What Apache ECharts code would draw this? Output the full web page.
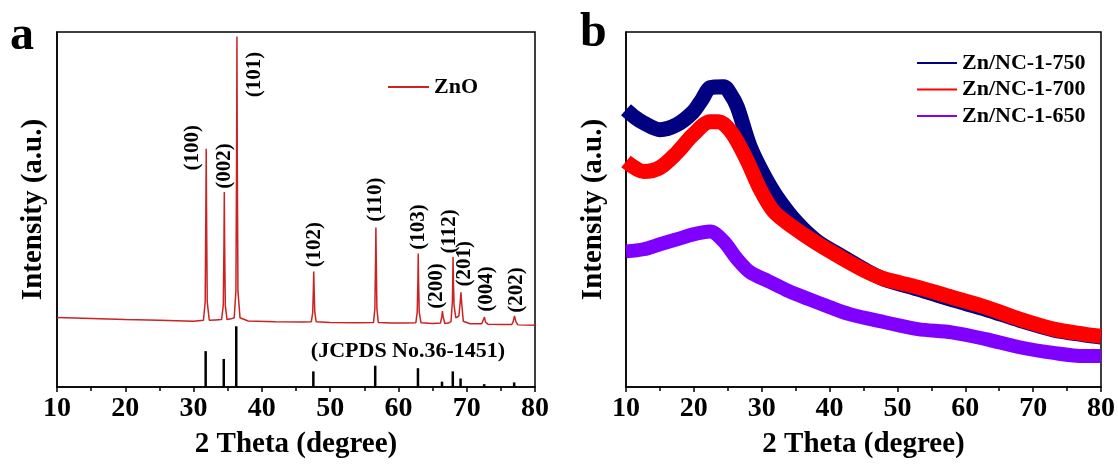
<!DOCTYPE html>
<html><head><meta charset="utf-8">
<script src="https://cdn.jsdelivr.net/npm/echarts@6/dist/echarts.min.js"></script>
<style>html,body{margin:0;padding:0;background:#fff}#c{width:1118px;height:464px}</style>
</head><body><div id="c"></div>
<script>
// ---------- data ----------
const xTicks = [10, 20, 30, 40, 50, 60, 70, 80];

// Panel a: measured ZnO pattern (2θ, intensity a.u.)
const znoPattern = [
  [10,19.6],[15,19.3],[20,19.0],[25,18.8],[30,18.5],
  [31.45,18.8],[31.7,24],[31.8,50],[31.85,67.1],[31.9,50],[32.0,24],[32.3,18.8],
  [33.2,18.9],
  [34.1,19.0],[34.35,23],[34.45,40],[34.5,54.9],[34.55,40],[34.65,23],[34.9,19.0],
  [35.5,19.2],
  [35.95,19.5],[36.2,27],[36.3,65],[36.35,98.7],[36.4,65],[36.5,27],[36.8,19.5],
  [38,18.6],[42,18.4],[46,18.3],
  [47.25,18.4],[47.45,21],[47.55,28],[47.6,32.5],[47.65,28],[47.75,21],[47.95,18.4],
  [50,18.2],[54,18.1],
  [56.35,18.2],[56.55,22],[56.65,36],[56.7,44.9],[56.75,36],[56.85,22],[57.05,18.2],
  [59,18.0],[61,18.0],
  [62.55,18.1],[62.75,21],[62.85,30],[62.9,37.6],[62.95,30],[63.05,21],[63.3,18.1],
  [65,17.9],
  [66.15,18.0],[66.35,19.8],[66.45,21.4],[66.55,19.8],[66.8,17.9],
  [67.3,18.0],
  [67.7,18.4],[67.9,24],[67.95,30],[68.0,36.6],[68.05,30],[68.15,23],[68.4,19.5],
  [68.85,20],[69.05,24],[69.15,26.7],[69.25,24],[69.5,18.5],
  [70.5,17.8],[72.2,17.8],
  [72.45,18.3],[72.6,19.7],[72.75,18.3],[73.1,17.7],
  [75,17.6],[76.6,17.6],
  [76.8,18.4],[77.0,20.0],[77.2,18.4],[77.5,17.5],
  [80,17.4]
];

// Panel a: JCPDS No.36-1451 reference lines
const jcpdsSticks = [
  [31.77,10.1],[34.42,7.9],[36.25,17.1],[47.54,4.4],[56.60,6.0],[62.86,5.3],
  [66.38,1.5],[67.96,4.4],[69.10,2.4],[72.56,0.8],[76.95,1.3]
];

// Panel a: peak indices and their peak tops
const peakLabels = ['(100)','(002)','(101)','(102)','(110)','(103)','(200)','(112)','(201)','(004)','(202)'];
const peakTops = [
  [31.85,67.1],[34.5,54.9],[36.35,98.7],[47.6,32.5],[56.7,44.9],[62.9,37.6],
  [66.45,21.4],[68.0,36.6],[69.15,26.7],[72.6,19.7],[77.0,20.0]
];

// Panel b
const seriesNamesB = ['Zn/NC-1-750', 'Zn/NC-1-700', 'Zn/NC-1-650'];
const zn750 = [
  [10,78.1],[11.3,76.0],[12.6,74.4],[15,72.5],[17.5,73.9],[19.9,77.5],[21.2,81.0],
  [22.4,84.3],[24.4,84.6],[25.4,82.5],[26.4,78.9],[28.3,67.7],[30.3,59.8],[32.3,53.4],
  [35.2,46.3],[38.2,41.0],[42.1,36.5],[45.6,32.6],[48,30.4],[53,27.6],
  [58,24.6],[63,21.9],[68,18.8],[73,16.1],[77.5,14.7],[80,14.1]
];
const zn700 = [
  [10,63.5],[12.6,60.7],[15,61.8],[17.5,66.0],[19.9,71.1],[22.4,74.7],[23.7,74.7],
  [25.6,71.6],[27.8,64.0],[29.8,55.6],[31.8,49.4],[34.7,44.9],[37.7,41.0],[42.1,36.0],
  [45.6,32.4],[48,30.5],[53,28.1],[58,25.3],[63,22.5],[68,19.1],
  [73,16.3],[77.5,14.9],[80,14.3]
];
const zn650 = [
  [10,38.2],[12.6,38.8],[15,40.2],[17.5,41.6],[19.9,43.0],[22.4,43.8],[24.4,41.0],
  [26.4,36.0],[28.3,32.3],[31,29.8],[34,27.0],[37,24.7],[40,22.5],[43,20.5],
  [48,18.3],[53,16.3],[58,15.4],[63,13.5],[68,11.2],[73,9.6],[77.5,8.7],[80,8.7]
];

// ---------- styles ----------
const FONT = 'Liberation Serif, Times New Roman, serif';
const labelOffsets = [[-13.7,-1],[0,-26],[17.7,38],[1,-27],[0,-28],[0,-26.5],[-5.6,-25],[-3.5,-25.7],[4,-28.5],[2.4,-28],[2.4,-26]];
const colorsB = ['#000080', '#ff0000', '#7f00ff'];

function xAxisCfg(gridIndex) {
  return {
    type: 'value', gridIndex, min: xTicks[0], max: xTicks[xTicks.length - 1], interval: 10,
    axisLine: { show: true, lineStyle: { color: '#000', width: 1.5 } },
    axisTick: { show: true, inside: false, length: 5, lineStyle: { color: '#000', width: 1.5 } },
    minorTick: { show: true, splitNumber: 2, length: 4, lineStyle: { color: '#000', width: 1.5 } },
    splitLine: { show: false },
    axisLabel: { color: '#000', fontFamily: FONT, fontWeight: 'bold', fontSize: 28, margin: 8 },
    name: '2 Theta (degree)', nameLocation: 'middle', nameGap: 43,
    nameTextStyle: { color: '#000', fontFamily: FONT, fontWeight: 'bold', fontSize: 29 }
  };
}
function yAxisCfg(gridIndex, gap) {
  return {
    type: 'value', gridIndex, min: 0, max: 100,
    axisLine: { show: true, lineStyle: { color: '#000', width: 1.5 } },
    axisTick: { show: false }, axisLabel: { show: false }, splitLine: { show: false },
    name: 'Intensity (a.u.)', nameLocation: 'middle', nameGap: gap, nameRotate: 90,
    nameTextStyle: { color: '#000', fontFamily: FONT, fontWeight: 'bold', fontSize: 29 }
  };
}

const chart = echarts.init(document.getElementById('c'), null, { renderer: 'canvas' });

const option = {
  animation: false,
  backgroundColor: '#fff',
  grid: [
    { left: 57, top: 32, width: 478, height: 356, show: true, borderColor: '#000', borderWidth: 1.5 },
    { left: 626, top: 32, width: 476, height: 356, show: true, borderColor: '#000', borderWidth: 1.5 }
  ],
  xAxis: [xAxisCfg(0), xAxisCfg(1)],
  yAxis: [yAxisCfg(0, 9), yAxisCfg(1, 18)],
  legend: [
    {
      data: ['ZnO'], left: 383, top: 71, icon: 'rect', itemWidth: 41, itemHeight: 2,
      itemStyle: { borderWidth: 0 },
      textStyle: { color: '#000', fontFamily: FONT, fontWeight: 'bold', fontSize: 22, lineHeight: 22 }
    },
    {
      data: seriesNamesB, orient: 'vertical', left: 912, top: 47, icon: 'rect',
      itemWidth: 40, itemHeight: 2, itemGap: 4.5, itemStyle: { borderWidth: 0 },
      textStyle: { color: '#000', fontFamily: FONT, fontWeight: 'bold', fontSize: 22, lineHeight: 22 }
    }
  ],
  series: [
    {
      name: 'ZnO', type: 'line', xAxisIndex: 0, yAxisIndex: 0, data: znoPattern,
      symbol: 'none', lineStyle: { color: '#cc2222', width: 1.5 }, itemStyle: { color: '#cc2222' }, z: 3
    },
    {
      name: 'JCPDS', type: 'bar', xAxisIndex: 0, yAxisIndex: 0, data: jcpdsSticks,
      barWidth: 2.5, itemStyle: { color: '#000' }, z: 2
    },
    {
      name: seriesNamesB[0], type: 'line', xAxisIndex: 1, yAxisIndex: 1, data: zn750,
      symbol: 'none', smooth: 0.3, lineStyle: { color: colorsB[0], width: 15 }, itemStyle: { color: colorsB[0] }, z: 2
    },
    {
      name: seriesNamesB[1], type: 'line', xAxisIndex: 1, yAxisIndex: 1, data: zn700,
      symbol: 'none', smooth: 0.3, lineStyle: { color: colorsB[1], width: 15 }, itemStyle: { color: colorsB[1] }, z: 3
    },
    {
      name: seriesNamesB[2], type: 'line', xAxisIndex: 1, yAxisIndex: 1, data: zn650,
      symbol: 'none', smooth: 0.3, lineStyle: { color: colorsB[2], width: 14 }, itemStyle: { color: colorsB[2] }, z: 4
    }
  ]
};
chart.setOption(option);

// annotations: panel letters, JCPDS text and rotated hkl labels anchored at peak tops
const graphics = [
  { type: 'text', left: 10, top: 13, style: { text: 'a', font: 'bold 48px ' + FONT, fill: '#000' } },
  { type: 'text', left: 580, top: 10, style: { text: 'b', font: 'bold 48px ' + FONT, fill: '#000' } },
  { type: 'text', x: 408, y: 351, style: { text: '(JCPDS No.36-1451)', font: 'bold 22px ' + FONT, fill: '#000', align: 'center', verticalAlign: 'middle' } }
];
peakLabels.forEach((t, i) => {
  const p = chart.convertToPixel({ gridIndex: 0 }, peakTops[i]);
  graphics.push({
    type: 'text', x: p[0] + labelOffsets[i][0], y: p[1] + labelOffsets[i][1], rotation: Math.PI / 2,
    style: { text: t, font: 'bold 21px ' + FONT, fill: '#000', align: 'center', verticalAlign: 'middle' }, z: 10
  });
});
chart.setOption({ graphic: graphics });
</script>
</body></html>
